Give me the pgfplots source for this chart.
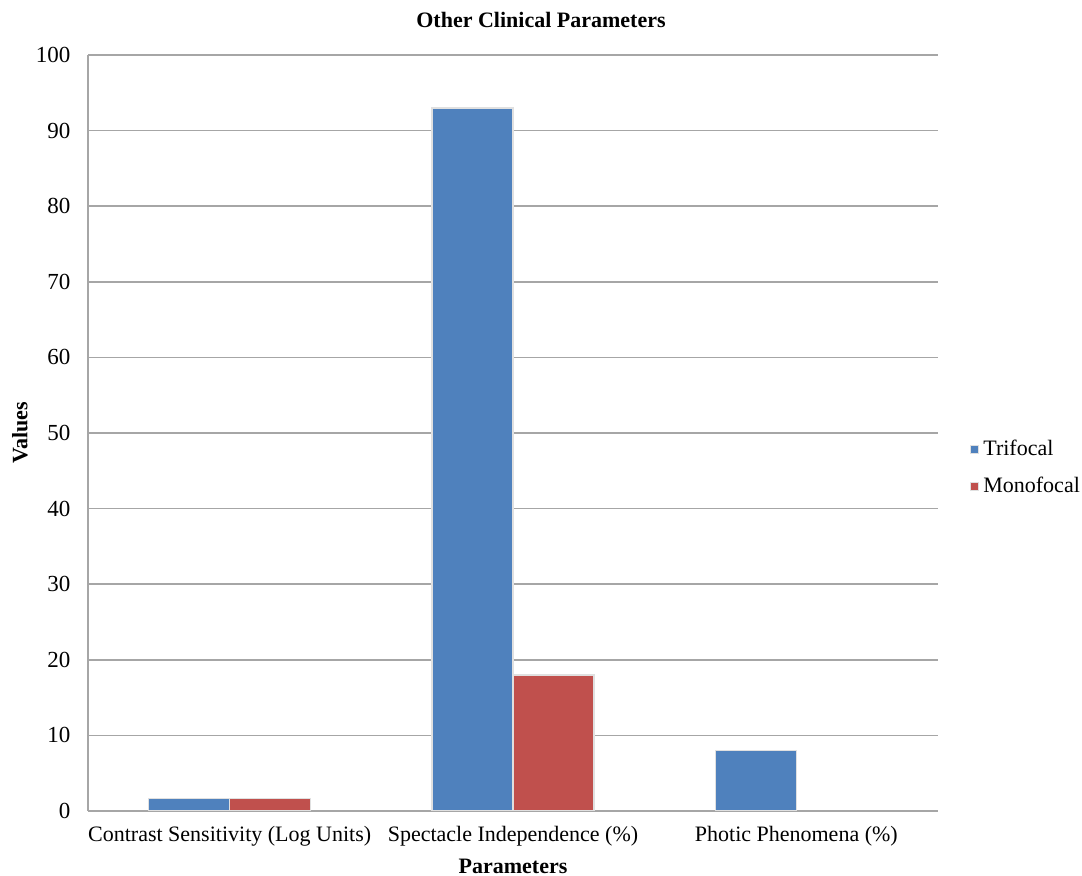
\documentclass[border=0pt]{standalone}
\usepackage{fontspec}
\setmainfont{Liberation Serif}
\usepackage{pgfplots}
\pgfplotsset{compat=1.18}
\definecolor{trifocal}{HTML}{4F81BD}
\definecolor{monofocal}{HTML}{C0504D}
\definecolor{gridgray}{HTML}{A6A6A6}
\begin{document}
\fontsize{11}{13}\selectfont
\begin{tikzpicture}
\begin{axis}[
  at={(0,0)}, anchor=south west,
  scale only axis, width=425pt, height=378pt,
  ybar=0pt, bar width=40.5pt,
  xmin=-0.5, xmax=2.5, ymin=0, ymax=100,
  ytick={0,10,...,100},
  xtick={0,1,2},
  xticklabels={Contrast Sensitivity (Log Units), Spectacle Independence (\%), Photic Phenomena (\%)},
  major tick length=0pt,
  axis x line*=bottom, axis y line*=left,
  axis line style={gridgray, line width=0.8pt},
  ymajorgrids, grid style={gridgray, line width=0.8pt},
  /pgf/number format/assume math mode=true,
  xticklabel style={yshift=-4pt},
  yticklabel style={xshift=-5pt, font=\fontsize{11.5}{13}\selectfont},
  xlabel={\textbf{Parameters}},
  xlabel style={at={(axis description cs:0.5,-0.073)}, anchor=center},
  ylabel={\textbf{Values}},
  ylabel style={at={(axis description cs:-0.08,0.5)}, anchor=center, rotate=0},
  legend style={at={(axis description cs:1.035,0.4537)}, anchor=west, draw=none, fill=none, row sep=5pt, inner sep=1pt, font=\rmfamily\fontsize{11}{13}\selectfont},
  legend cell align=left,
  legend image code/.code={\fill[#1] (0pt,-2pt) rectangle (4pt,2pt);},
]
\addplot[fill=trifocal, draw=black!12, line width=0.6pt] coordinates {(0,1.6) (1,93) (2,8)};
\addplot[fill=monofocal, draw=black!12, line width=0.6pt] coordinates {(0,1.6) (1,18)};
\legend{Trifocal, Monofocal}
\end{axis}
\node[font=\bfseries] at (226.5pt,395.5pt) {Other Clinical Parameters};
\pgfresetboundingbox
\path (-44pt,-32.5pt) rectangle (497pt,405.5pt);
\end{tikzpicture}
\end{document}
